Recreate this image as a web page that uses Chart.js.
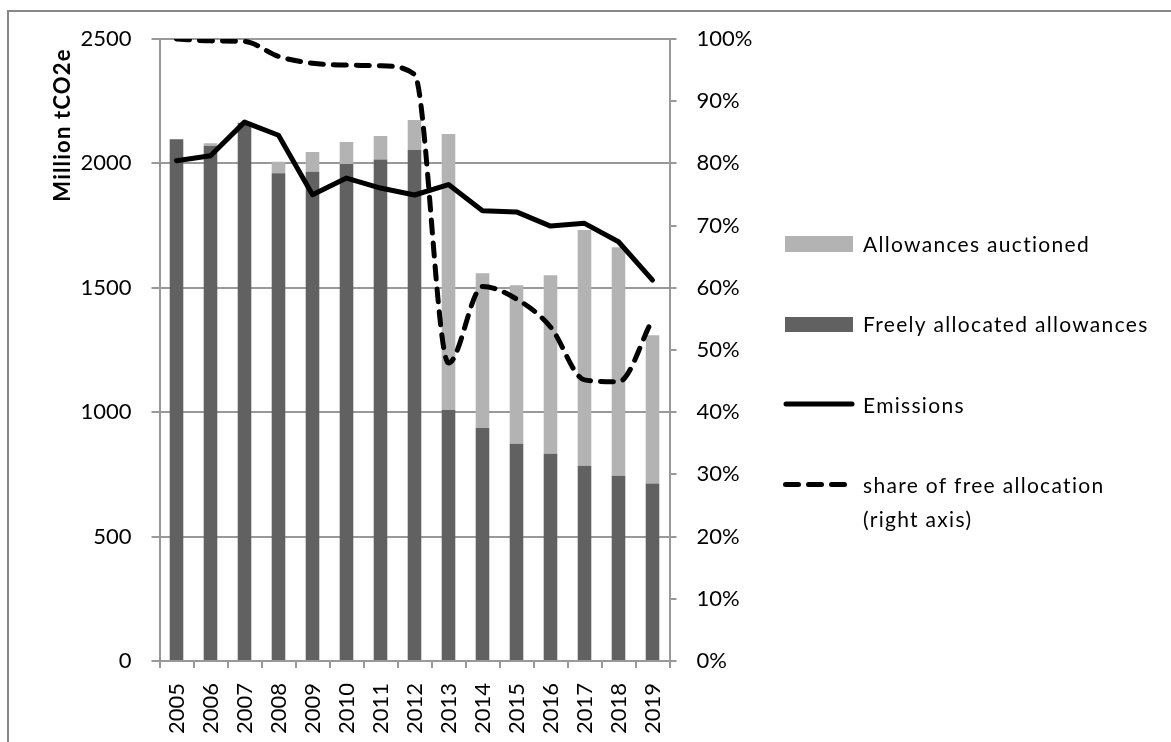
<!DOCTYPE html>
<html>
<head>
<meta charset="utf-8">
<title>EU ETS allowances and emissions</title>
<script src="https://cdn.jsdelivr.net/npm/chart.js@4.4.1/dist/chart.umd.min.js"></script>
<style>
  html, body { margin: 0; padding: 0; background: #fff; }
  canvas { display: block; }
</style>
</head>
<body>
<canvas id="chart-eua" width="1171" height="742"></canvas>
<script>
// データ
const years = ["2005", "2006", "2007", "2008", "2009", "2010", "2011", "2012",
               "2013", "2014", "2015", "2016", "2017", "2018", "2019"];
const freeAlloc = [2097, 2070, 2163, 1960, 1966, 1998, 2016, 2054, 1009, 936, 873, 833, 785, 745, 713];
const auctioned = [0, 11, 0, 47, 80, 88, 94, 120, 1109, 622, 637, 717, 947, 918, 596];
const emissions = [2011, 2031, 2166, 2113, 1874, 1941, 1901, 1873, 1915, 1810, 1805, 1748, 1759, 1685, 1531];
const freeShare = [100, 99.7, 99.6, 97.2, 96.1, 95.8, 95.7, 94.3, 47.9, 60.2, 58.2, 53.7, 45.2, 44.9, 54.9];
const leftTicks = [0, 500, 1000, 1500, 2000, 2500];

const gridGray = "#999999";
const tickFont = { family: "Lato", size: 22 };

// 外枠（上と左だけ見えている）
const framePlugin = {
  id: "frame",
  beforeDraw(chart) {
    const c = chart.ctx;
    c.save();
    c.strokeStyle = "#888888";
    c.lineWidth = 2;
    c.beginPath();
    c.moveTo(1171, 11);
    c.lineTo(8, 11);
    c.lineTo(8, 742);
    c.stroke();
    c.restore();
  },
};

// 縦軸タイトル
const axisTitlePlugin = {
  id: "axisTitle",
  afterDraw(chart) {
    const c = chart.ctx;
    c.save();
    c.translate(70, 125);
    c.rotate(-Math.PI / 2);
    c.font = "bold 22px Lato";
    c.letterSpacing = "1.2px";
    c.fillStyle = "#000";
    c.textAlign = "center";
    c.textBaseline = "alphabetic";
    c.fillText("Million tCO2e", 0, 0);
    c.restore();
  },
};

// 凡例（右側）
const legendPlugin = {
  id: "sideLegend",
  afterDraw(chart) {
    const c = chart.ctx;
    const ds = chart.data.datasets;
    const byLabel = (l) => ds.find((d) => d.label === l);
    c.save();
    c.font = "21px Lato";
    c.letterSpacing = "1.3px";
    c.fillStyle = "#000";
    c.textBaseline = "alphabetic";
    c.textAlign = "left";

    // Allowances auctioned
    c.fillStyle = byLabel("Allowances auctioned").backgroundColor;
    c.fillRect(785, 236, 68, 16);
    c.fillStyle = "#000";
    c.fillText("Allowances auctioned", 863, 252);

    // Freely allocated
    c.fillStyle = byLabel("Freely allocated allowances").backgroundColor;
    c.fillRect(785, 317, 68, 15);
    c.fillStyle = "#000";
    c.fillText("Freely allocated allowances", 863, 332);

    // Emissions
    c.strokeStyle = "#000";
    c.lineWidth = 5;
    c.lineCap = "round";
    c.beginPath();
    c.moveTo(786, 404);
    c.lineTo(852, 404);
    c.stroke();
    c.fillText("Emissions", 863, 413);

    // share
    c.setLineDash([13, 10]);
    c.beginPath();
    c.moveTo(785.5, 484.5);
    c.lineTo(845, 484.5);
    c.stroke();
    c.setLineDash([]);
    c.fillText("share of free allocation", 863, 493);
    c.fillText("(right axis)", 863, 527);
    c.restore();
  },
};

function drawChart() {
  const ctx = document.getElementById("chart-eua");
  new Chart(ctx, {
    type: "bar",
    data: {
      labels: years,
      datasets: [
        {
          type: "line",
          label: "share of free allocation (right axis)",
          data: freeShare,
          yAxisID: "y1",
          borderColor: "#000",
          borderWidth: 5,
          borderDash: [13, 10],
          borderCapStyle: "round",
          borderJoinStyle: "round",
          cubicInterpolationMode: "monotone",
          pointRadius: 0,
          fill: false,
          order: 0,
        },
        {
          type: "line",
          label: "Emissions",
          data: emissions,
          yAxisID: "y",
          stack: "em",
          borderColor: "#000",
          borderWidth: 5,
          borderCapStyle: "round",
          borderJoinStyle: "round",
          tension: 0,
          pointRadius: 0,
          fill: false,
          order: 1,
        },
        {
          label: "Freely allocated allowances",
          data: freeAlloc,
          backgroundColor: "#616161",
          stack: "alloc",
          order: 2,
        },
        {
          label: "Allowances auctioned",
          data: auctioned,
          backgroundColor: "#b3b3b3",
          stack: "alloc",
          order: 2,
        },
      ],
    },
    options: {
      responsive: false,
      animation: false,
      layout: { padding: { top: 39, left: 0, right: 0, bottom: 0 } },
      datasets: { bar: { barPercentage: 0.4, categoryPercentage: 1 } },
      plugins: { legend: { display: false }, tooltip: { enabled: false } },
      scales: {
        x: {
          stacked: true,
          grid: { drawOnChartArea: false, color: gridGray, lineWidth: 2, tickLength: 7, offset: true },
          border: { color: gridGray, width: 2 },
          ticks: { font: tickFont, color: "#000", minRotation: 90, maxRotation: 90, autoSkip: false, padding: 15 },
          afterFit: (s) => { s.height = 81; },
        },
        y: {
          stacked: true,
          min: leftTicks[0],
          max: leftTicks[leftTicks.length - 1],
          ticks: { stepSize: 500, font: tickFont, color: "#000", padding: 20, callback: (v) => String(v) },
          grid: { color: gridGray, lineWidth: 2, tickLength: 8 },
          border: { color: gridGray, width: 2 },
          afterFit: (s) => { s.width = 159.5; },
        },
        y1: {
          position: "right",
          min: 0,
          max: 100,
          ticks: { stepSize: 10, font: tickFont, color: "#000", padding: 20, callback: (v) => v + "%" },
          grid: { drawOnChartArea: false, color: gridGray, lineWidth: 2, tickLength: 7 },
          border: { color: gridGray, width: 2 },
          afterFit: (s) => { s.width = 501.5; },
        },
      },
    },
    plugins: [framePlugin, axisTitlePlugin, legendPlugin],
  });
}

document.addEventListener("DOMContentLoaded", () => {
  Promise.all([
    document.fonts.load("22px Lato"),
    document.fonts.load("bold 22px Lato"),
  ]).then(drawChart, drawChart);
});
</script>
</body>
</html>
